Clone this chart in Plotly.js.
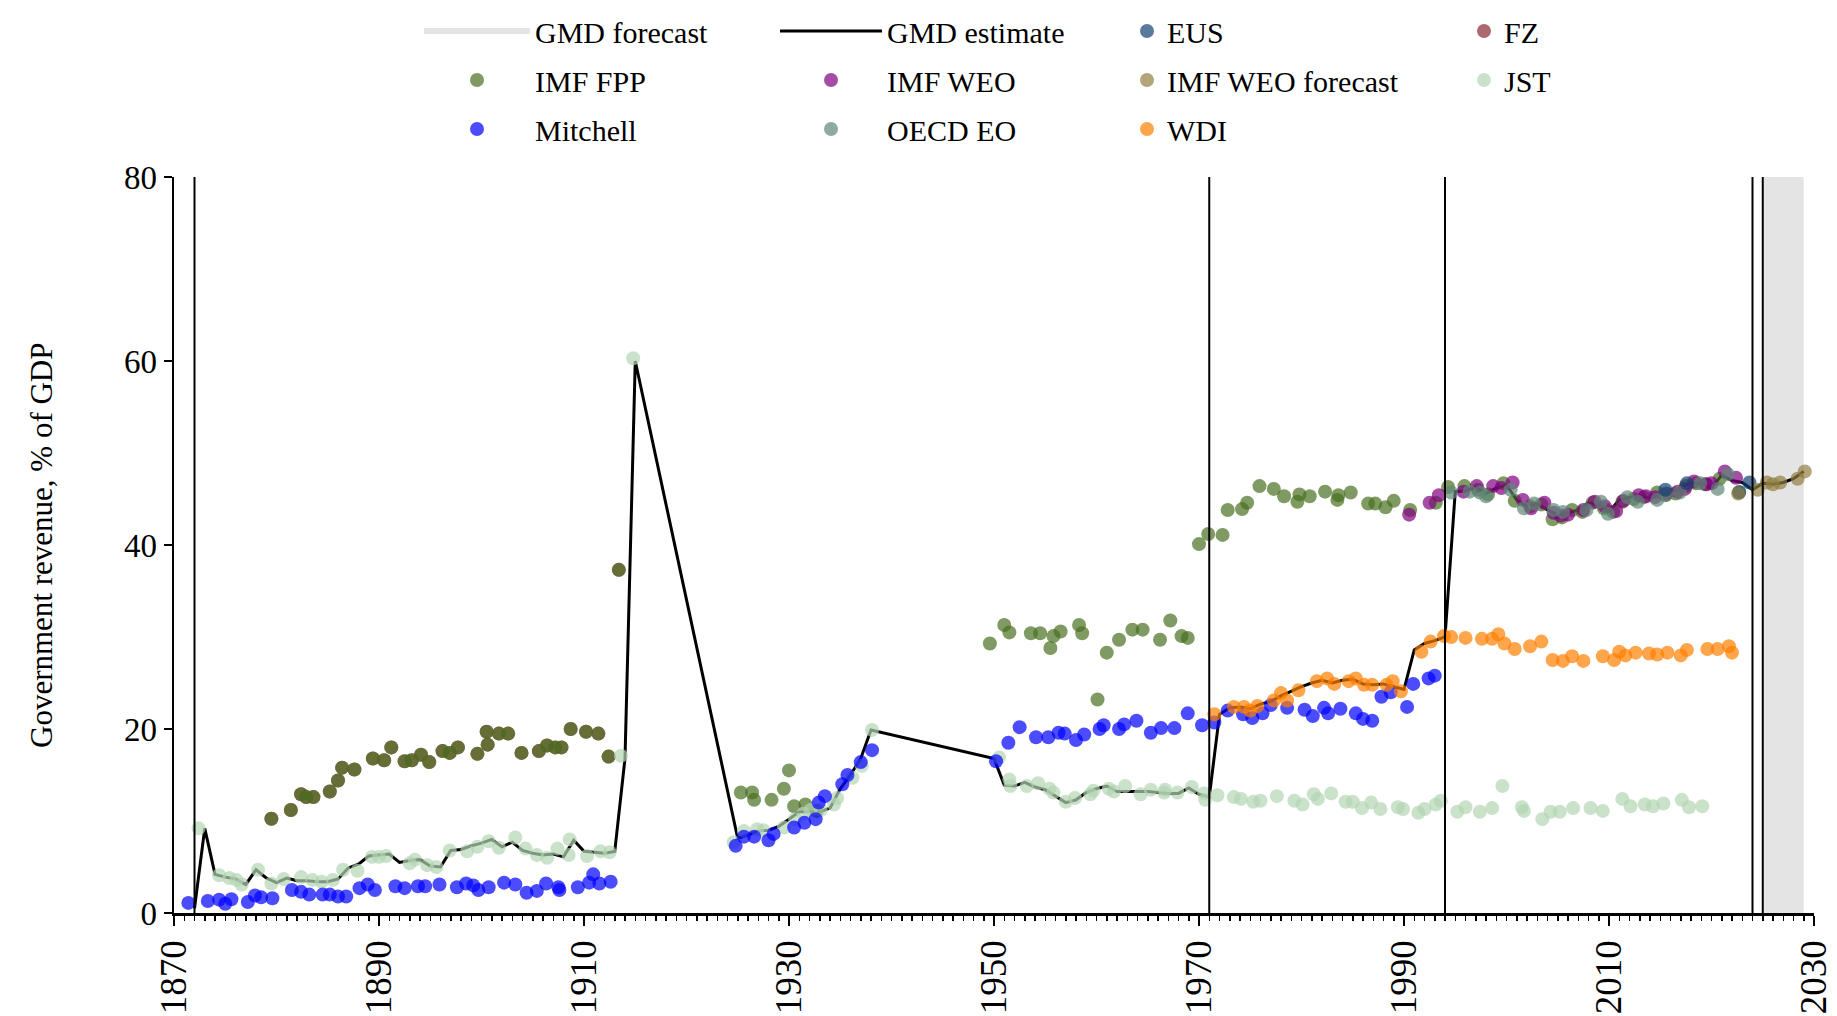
<!DOCTYPE html>
<html>
<head>
<meta charset="utf-8">
<script src="https://cdn.plot.ly/plotly-3.0.1.min.js"></script>
<style>html,body{margin:0;padding:0;background:#fff;}#chart{width:1837px;height:1016px;}</style>
</head>
<body>
<div id="chart"></div>
<script>
// ---------------- DATA ----------------
const forecastBand = [2025, 2029];
const breakYears = [1872, 1971, 1994, 2024, 2025];
const yRange = [0, 80];
const xRange = [1870, 2030];
const yTitle = 'Government revenue, % of GDP';

const gmdYears = [1872,1873,1874,1875,1876,1877,1878,1879,1880,1881,1882,1883,1884,1885,1886,1887,1888,1889,1890,1891,1892,1893,1894,1895,1896,1897,1898,1899,1900,1901,1902,1903,1904,1905,1906,1907,1908,1909,1910,1911,1912,1913,1914,1915,
  1925,1926,1927,1928,1929,1930,1931,1932,1933,1934,1935,1936,1937,1938,
  1950,1951,1952,1953,1954,1955,1956,1957,1958,1959,1960,1961,1962,1963,1964,1965,1966,1967,1968,1969,1970,1971,1972,1973,1974,1975,1976,1977,1978,1979,1980,1981,1982,1983,1984,1985,1986,1987,1988,1989,1990,1991,1992,1993,1994,
  1995,1996,1997,1998,1999,2000,2001,2002,2003,2004,2005,2006,2007,2008,2009,2010,2011,2012,2013,2014,2015,2016,2017,2018,2019,2020,2021,2022,2023,2024,2025,2026,2027,2028,2029];
const gmdValues = [0.5,9.2,4.2,3.9,3.7,3.1,4.7,3.8,3.3,3.8,3.5,3.5,3.4,3.4,3.7,4.9,5.3,6.2,6.3,6.4,5.5,5.7,5.8,5.1,5.0,6.8,6.9,7.3,7.6,8.0,7.2,7.7,6.8,6.5,6.3,6.4,6.1,7.9,6.7,6.6,6.5,6.7,16.8,60.0,
  8.1,8.5,8.9,9.0,9.4,10.2,11.0,11.0,11.0,11.4,13.5,15.0,16.8,19.9,
  16.8,13.9,13.8,14.2,13.7,13.4,12.7,12.0,12.3,13.1,13.5,13.8,13.2,13.2,13.2,13.2,13.1,13.0,13.0,13.6,12.9,12.6,21.6,22.3,22.4,22.2,22.7,23.0,23.6,24.1,24.6,25.0,25.3,25.0,25.3,25.4,24.9,24.8,24.9,24.6,24.3,28.6,29.3,29.6,30.0,
  45.8,45.9,46.3,45.6,46.2,46.5,44.9,44.2,44.5,43.8,43.3,43.5,43.8,44.6,44.3,43.6,44.9,45.2,45.3,45.1,45.5,45.7,46.2,46.8,46.7,46.2,47.6,47.0,46.8,46.0,46.7,46.6,46.8,47.2,48.0];

const fppYears = [1879.5,1881.4,1882.4,1882.9,1883.6,1885.2,1886.0,1886.4,1887.6,1889.4,1890.5,1891.2,1892.5,1893.2,1894.1,1894.9,1896.2,1896.9,1897.7,1899.6,1900.5,1900.6,1901.7,1902.6,1903.9,1905.6,1906.4,1907.2,1907.8,1908.7,1910.2,1911.4,1912.4,1913.4,
  1925.3,1926.4,1926.6,1928.3,1929.5,1930.0,1930.5,1931.6,1932.7,
  1949.6,1951.0,1951.5,1953.6,1954.5,1955.5,1955.8,1956.5,1958.3,1958.6,1960.1,1961.0,1962.2,1963.5,1964.5,1966.2,1967.2,1968.3,1968.9,
  1970.0,1970.9,1972.3,1972.8,1974.2,1974.7,1975.9,1977.3,1978.3,1979.6,1979.8,1980.8,1982.3,1983.5,1983.6,1984.8,1986.5,1987.2,1988.2,1989.0,1990.6,1993.1,1994.3,1995.9,1997.2,1998.2,1999.7,2000.8,2002.3,2003.4,2004.5,2005.4,2006.4,2007.4,2008.4,2009.5,2010.4,2011.3,2012.4,2013.4,2014.7,2015.5,2016.5,2017.5,2018.5,2019.4,2020.8];
const fppValues = [10.25,11.2,12.9,12.6,12.6,13.2,14.4,15.8,15.6,16.8,16.6,18.0,16.5,16.6,17.2,16.4,17.6,17.4,18.0,17.3,19.7,18.3,19.5,19.5,17.4,17.6,18.2,18.0,18.0,20.0,19.7,19.5,17.0,37.3,
  13.1,13.1,12.3,12.3,13.5,15.5,11.6,11.8,11.1,
  29.3,31.3,30.5,30.4,30.4,28.8,30.1,30.6,31.3,30.4,23.2,28.3,29.7,30.8,30.8,29.7,31.8,30.1,29.9,
  40.1,41.2,41.1,43.8,43.9,44.6,46.4,46.1,45.3,44.7,45.5,45.3,45.8,44.9,45.4,45.7,44.5,44.5,44.1,44.8,43.8,44.6,46.3,46.4,46.0,45.5,46.7,44.8,44.2,44.4,42.8,43.0,43.8,43.6,44.6,44.0,43.6,44.7,45.0,45.2,45.7,45.4,45.6,46.4,46.7,46.6,47.2];

const fzYears = [1879.5,1881.4,1882.4,1882.9,1883.6,1885.2,1886.0,1886.4,1887.6,1889.4,1890.5,1891.2,1892.5,1893.2,1894.1,1894.9,1896.2,1896.9,1897.7,1899.6,1900.5,1900.6,1901.7,1902.6,1903.9,1905.6,1906.4,1907.2,1907.8,1908.7,1910.2,1911.4,1912.4,1913.4];
const fzValues = [10.25,11.2,12.9,12.6,12.6,13.2,14.4,15.8,15.6,16.8,16.6,18.0,16.5,16.6,17.2,16.4,17.6,17.4,18.0,17.3,19.7,18.3,19.5,19.5,17.4,17.6,18.2,18.0,18.0,20.0,19.7,19.5,17.0,37.3];

const jstYears = [1872.4,1874.4,1875.4,1876.1,1876.6,1878.2,1879.5,1880.7,1882.4,1883.5,1884.4,1885.5,1886.5,1887.9,1889.3,1890.0,1890.7,1893.0,1893.5,1894.7,1895.6,1896.9,1898.6,1899.6,1900.7,1901.7,1903.3,1904.3,1905.4,1906.4,1907.4,1908.5,1908.6,1910.3,1911.6,1912.5,1913.6,1914.8,
  1924.6,1925.6,1926.9,1927.5,1929.5,1930.6,1931.4,1932.1,1933.1,1934.4,1934.7,1936.2,1937.1,1938.1,
  1950.5,1951.5,1951.6,1953.2,1954.3,1955.4,1955.8,1957.0,1957.9,1959.4,1959.7,1961.2,1961.7,1962.8,1964.3,1965.3,1966.6,1966.7,1967.9,1969.3,1970.5,1970.6,1971.8,1973.4,1974.1,1975.3,1976.0,1977.6,1979.3,1980.1,1981.2,1981.6,1982.9,1984.3,1985.0,1985.9,1986.8,1987.7,1989.4,1989.9,1991.4,1992.0,1993.1,1993.6,
  1995.2,1996.0,1997.4,1998.6,1999.6,2001.5,2001.7,2003.5,2004.3,2005.2,2006.5,2008.2,2009.4,2011.3,2012.1,2013.5,2014.3,2015.3,2017.1,2017.8,2019.1];
const jstValues = [9.2,4.1,3.8,3.6,3.1,4.7,3.2,3.7,3.9,3.6,3.4,3.6,4.7,4.6,6.1,6.1,6.2,5.4,5.8,5.2,5.0,6.8,6.7,7.2,7.8,7.1,8.2,7.0,6.3,6.0,7.0,6.3,8.0,6.2,6.7,6.6,17.1,60.3,
  7.7,8.9,9.1,9.0,9.3,10.2,10.8,11.2,11.2,11.8,12.5,14.7,16.0,19.9,
  16.9,14.5,13.8,13.8,14.1,13.5,13.1,12.1,12.5,12.9,13.3,13.5,13.2,13.8,12.9,13.4,13.1,13.4,13.1,13.7,13.0,12.3,12.8,12.6,12.4,12.1,12.2,12.7,12.2,11.8,12.9,12.4,13.0,12.1,12.1,11.4,12.0,11.3,11.5,11.3,10.9,11.3,11.8,12.2,
  11.0,11.5,11.0,11.4,13.8,11.5,11.1,10.2,11.0,11.0,11.4,11.4,11.1,12.4,11.6,11.8,11.6,11.9,12.3,11.5,11.6];

const mitchellYears = [1871.4,1873.3,1874.4,1875.0,1875.6,1877.2,1877.9,1878.5,1879.6,1881.5,1882.4,1883.2,1884.5,1885.2,1886.0,1886.8,1888.1,1888.9,1889.6,1891.6,1892.5,1893.8,1894.5,1895.9,1897.6,1898.5,1899.2,1899.7,1900.7,1902.2,1903.3,1904.4,1905.4,1906.3,1907.5,1907.6,1909.4,1910.5,1910.9,1911.5,1912.6,
  1924.8,1925.6,1926.6,1928.0,1928.5,1930.5,1931.5,1932.6,1932.9,1933.5,1935.2,1935.7,1937.0,1938.1,
  1950.2,1951.4,1952.5,1954.1,1955.3,1956.3,1956.9,1958.0,1958.8,1960.3,1960.7,1962.2,1962.7,1963.9,1965.3,1966.3,1967.6,1968.9,1970.3,1971.5,1972.8,1974.3,1975.2,1976.2,1977.0,1978.6,1980.3,1981.1,1982.2,1982.6,1983.8,1985.3,1986.0,1986.9,1987.8,1988.7,1990.3,1990.9,1992.4,1993.0];
const mitchellValues = [1.1,1.3,1.45,1.0,1.5,1.2,1.9,1.7,1.6,2.5,2.3,2.0,2.0,2.0,1.8,1.8,2.7,3.1,2.5,2.9,2.7,2.9,2.9,3.1,2.8,3.2,3.0,2.5,2.8,3.3,3.1,2.2,2.4,3.2,2.8,2.5,2.8,3.3,4.2,3.2,3.4,
  7.3,8.3,8.3,7.9,8.6,9.3,9.8,10.2,12.0,12.7,14.0,15.0,16.4,17.7,
  16.5,18.5,20.2,19.1,19.1,19.6,19.5,18.8,19.4,20.0,20.4,20.0,20.5,20.9,19.6,20.1,20.1,21.7,20.4,20.7,22.0,21.6,21.2,21.7,22.6,22.3,22.1,21.4,22.3,21.7,22.2,21.7,21.1,20.9,23.5,24.0,22.4,24.9,25.5,25.8];

const wdiYears = [1971.5,1973.4,1974.4,1975.0,1975.7,1977.3,1978.0,1978.6,1979.7,1981.5,1982.5,1983.2,1984.6,1985.3,1986.1,1986.9,1988.3,1988.9,1989.7,1991.7,1992.6,1993.9,1994.6,1996.0,1997.6,1998.6,1999.2,1999.8,2000.8,2002.3,2003.4,2004.5,2005.5,2006.4,2007.5,2009.4,2010.5,2011.0,2011.6,2012.6,2013.9,2014.7,2015.7,2017.0,2017.6,2019.6,2020.6,2021.7,2022.0];
const wdiValues = [21.6,22.4,22.4,22.0,22.5,23.1,23.9,23.1,24.2,25.2,25.5,24.9,25.2,25.5,24.8,24.8,24.8,25.2,24.1,28.4,29.5,30.1,30.0,29.9,29.8,29.8,30.3,29.3,28.7,29.0,29.5,27.5,27.4,27.9,27.4,27.9,27.5,28.4,28.0,28.3,28.2,28.1,28.3,28.0,28.6,28.7,28.7,29.0,28.3];

const weoYears = [1990.5,1992.5,1993.4,1995.8,1997.1,1998.7,1999.5,2000.6,2001.6,2002.4,2003.7,2004.6,2005.3,2006.0,2007.5,2008.6,2009.6,2010.7,2011.4,2012.9,2013.6,2014.5,2015.6,2016.7,2017.4,2018.3,2019.5,2020.0,2021.3,2022.4];
const weoValues = [43.3,44.6,45.4,45.8,46.4,46.4,46.2,46.8,44.9,44.0,44.6,43.5,43.2,43.3,43.8,44.7,44.2,43.7,44.8,45.4,45.3,45.2,45.6,45.8,46.1,46.9,46.6,46.7,48.0,47.3];

const oecdYears = [1994.6,1996.4,1997.4,1998.0,2000.4,2001.7,2002.7,2004.6,2005.5,2007.8,2009.2,2009.9,2011.8,2012.8,2014.7,2015.6,2016.9,2018.9,2020.6,2021.6,2022.7];
const oecdValues = [45.7,45.8,45.7,45.3,46.0,44.0,44.5,43.8,43.6,43.8,44.7,43.4,45.2,44.7,44.9,45.5,45.7,46.7,46.1,47.7,45.8];

const eusYears = [2015.5,2017.6,2022.7,2023.7];
const eusValues = [46.0,46.7,45.7,46.8];

const weoFcYears = [2022.6,2024.5,2025.4,2026.0,2026.7,2028.4,2029.1];
const weoFcValues = [45.6,46.0,46.8,46.6,46.8,47.2,48.0];

// ---------------- STYLE ----------------
const FONT = 'Liberation Serif, Times New Roman, serif';
const MS = 14;
function pts(name, xs, ys, color, legend, rank) {
  return {type:'scatter', mode:'markers', name:name, x:xs, y:ys, legend:legend, legendgroup:name, legendrank:rank,
    marker:{color:color, size:MS, opacity:0.7, line:{width:0}}, hoverinfo:'x+y+name'};
}

const traces = [
  {type:'scatter', mode:'none', name:'GMD forecast', legend:'legend', legendgroup:'fc', legendrank:1,
   x:[forecastBand[0], forecastBand[1], forecastBand[1], forecastBand[0], forecastBand[0]],
   y:[yRange[0], yRange[0], yRange[1], yRange[1], yRange[0]],
   fill:'toself', fillcolor:'#e4e4e4', hoverinfo:'skip'},
  {type:'scatter', mode:'lines', name:'GMD estimate', legend:'legend2', legendgroup:'gmd', legendrank:1,
   x:gmdYears, y:gmdValues, line:{color:'#000', width:3}},
  pts('FZ', fzYears, fzValues, 'rgb(136,40,50)', 'legend4', 1),
  pts('IMF FPP', fppYears, fppValues, 'rgb(72,111,31)', 'legend', 2),
  pts('JST', jstYears, jstValues, 'rgb(180,214,180)', 'legend4', 2),
  pts('Mitchell', mitchellYears, mitchellValues, 'rgb(0,0,255)', 'legend', 3),
  pts('WDI', wdiYears, wdiValues, 'rgb(255,127,0)', 'legend3', 3),
  pts('IMF WEO', weoYears, weoValues, 'rgb(128,0,128)', 'legend2', 2),
  pts('OECD EO', oecdYears, oecdValues, 'rgb(95,135,119)', 'legend2', 3),
  pts('EUS', eusYears, eusValues, 'rgb(20,65,115)', 'legend3', 1),
  pts('IMF WEO forecast', weoFcYears, weoFcValues, 'rgb(145,127,65)', 'legend3', 2)
];

const W = 1837, H = 1016;
function leg(px, py, itemw) {
  return {xref:'container', yref:'container', x:px/W, y:1-py/H, xanchor:'left', yanchor:'top',
    orientation:'v', bgcolor:'rgba(0,0,0,0)', borderwidth:0, itemwidth:itemw,
    traceorder:'grouped', tracegroupgap:7, font:{family:FONT, size:30, color:'#000'}};
}

const shapes = breakYears.map(yr => ({type:'line', xref:'x', yref:'y', x0:yr, x1:yr, y0:yRange[0], y1:yRange[1],
  line:{color:'#000', width:2}, layer:'above'}));

const layout = {
  width:W, height:H,
  margin:{l:174, r:23, t:177, b:103, pad:0, autoexpand:false},
  paper_bgcolor:'#fff', plot_bgcolor:'#fff',
  font:{family:FONT, color:'#000'},
  showlegend:true,
  legend: leg(419, 5, 106),
  legend2: leg(775, 5, 102),
  legend3: leg(1127, 5, 30),
  legend4: leg(1464, 5, 30),
  xaxis:{range:xRange, tickmode:'linear', tick0:1870, dtick:20, ticks:'outside', ticklen:10, tickwidth:2,
    tickcolor:'#000', showline:true, linecolor:'#000', linewidth:2.5, showgrid:false, zeroline:false,
    tickangle:-90, tickfont:{family:FONT, size:37, color:'#000'}, automargin:false,
    minor:{ticks:'outside', dtick:1, ticklen:5, tickwidth:1.5, tickcolor:'#000', showgrid:false}},
  yaxis:{range:yRange, tickmode:'linear', tick0:0, dtick:20, ticks:'outside', ticklen:8, tickwidth:2,
    tickcolor:'#000', showline:true, linecolor:'#000', linewidth:2.5, showgrid:false, zeroline:false,
    tickfont:{family:FONT, size:33, color:'#000'}, automargin:false},
  annotations:[{text:yTitle, xref:'paper', yref:'paper', x:-0.0811, y:0.5, xanchor:'center', yanchor:'middle',
    textangle:-90, showarrow:false, font:{family:FONT, size:31, color:'#000'}}],
  shapes:shapes
};

Plotly.newPlot('chart', traces, layout, {displayModeBar:false, staticPlot:true});
</script>
</body>
</html>
